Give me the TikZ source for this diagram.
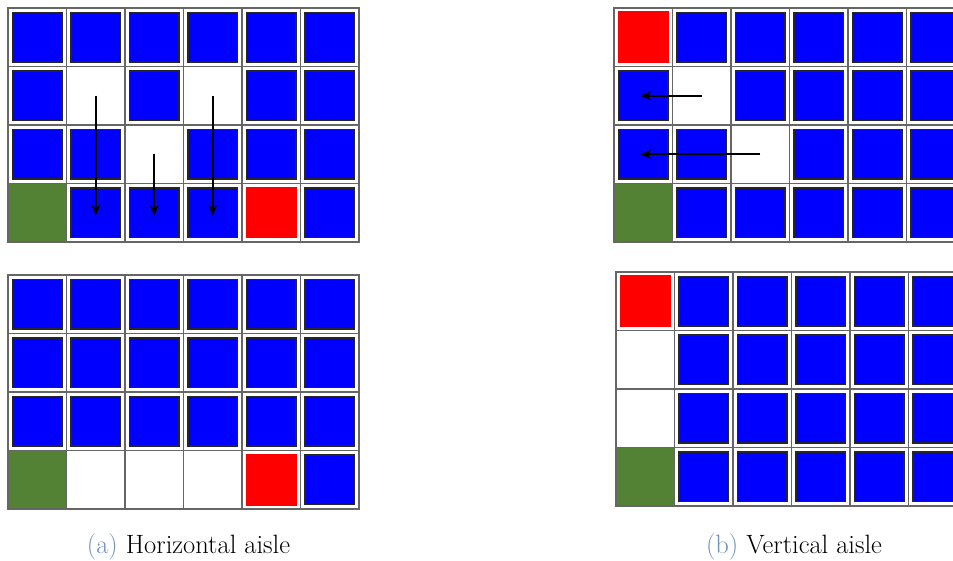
\documentclass[tikz,border=0pt]{standalone}
\usepackage{tikz}
\usetikzlibrary{arrows.meta}
\definecolor{rackblue}{RGB}{0,0,255}
\definecolor{pickred}{RGB}{255,0,0}
\definecolor{depotgreen}{RGB}{84,130,53}
\definecolor{capblue}{RGB}{110,145,180}

\tikzset{
    cell/.style={draw=black!60, line width=1.3pt, minimum size=58.5pt, inner sep=0pt, outer sep=0pt},
    rack/.style={path picture={
        \filldraw[fill=rackblue, draw=black!85, line width=1.1pt]
            ([shift={(4.5pt,4.5pt)}]path picture bounding box.south west) rectangle
            ([shift={(-4.5pt,-4.5pt)}]path picture bounding box.north east);}},
    pick/.style={path picture={
        \fill[pickred]
            ([shift={(3.5pt,3.5pt)}]path picture bounding box.south west) rectangle
            ([shift={(-3.5pt,-3.5pt)}]path picture bounding box.north east);}},
    depot/.style={fill=depotgreen, path picture={
        \draw[green!40!black, line width=2.5pt]
            (path picture bounding box.south west) -- (path picture bounding box.south east);}},
    aisle/.style={},
    move/.style={-{Stealth[length=11pt,width=9pt]}, line width=2pt, shorten >=-3pt},
    caption/.style={anchor=base, font=\fontsize{26.5}{31}\selectfont}
}

% name, left, top, rows of cells
\newcommand{\storegrid}[4]{%
    \foreach \cells [count=\r from 0] in {#4} {
        \foreach \kind [count=\c from 0] in \cells {
            \node[cell,\kind] (#1-\r-\c) at ({#2+(\c+0.5)*58.5},{#3+(\r+0.5)*58.5}) {};
        }
    }
}

\begin{document}
\begin{tikzpicture}[x=1pt,y=-1pt]
    \useasboundingbox (0,0) rectangle (953,561);

    % (a) horizontal aisle
    \storegrid{ht}{8}{8}{{rack,rack,rack,rack,rack,rack},
                         {rack,aisle,rack,aisle,rack,rack},
                         {rack,rack,aisle,rack,rack,rack},
                         {depot,rack,rack,rack,pick,rack}}
    \storegrid{hb}{8}{275}{{rack,rack,rack,rack,rack,rack},
                           {rack,rack,rack,rack,rack,rack},
                           {rack,rack,rack,rack,rack,rack},
                           {depot,aisle,aisle,aisle,pick,rack}}
    \draw[move] (ht-1-1.center) -- (ht-3-1.center);
    \draw[move] (ht-2-2.center) -- (ht-3-2.center);
    \draw[move] (ht-1-3.center) -- (ht-3-3.center);

    % (b) vertical aisle
    \storegrid{vt}{614}{8}{{pick,rack,rack,rack,rack,rack},
                           {rack,aisle,rack,rack,rack,rack},
                           {rack,rack,aisle,rack,rack,rack},
                           {depot,rack,rack,rack,rack,rack}}
    \storegrid{vb}{616}{272}{{pick,rack,rack,rack,rack,rack},
                             {aisle,rack,rack,rack,rack,rack},
                             {aisle,rack,rack,rack,rack,rack},
                             {depot,rack,rack,rack,rack,rack}}
    \draw[move] (vt-1-1.center) -- (vt-1-0.center);
    \draw[move] (vt-2-2.center) -- (vt-2-0.center);

    \node[caption] (capa) at (188.5,553) {\textcolor{capblue}{(a)} Horizontal aisle};
    \node[caption] (capb) at (794,553) {\textcolor{capblue}{(b)} Vertical aisle};
\end{tikzpicture}
\end{document}
